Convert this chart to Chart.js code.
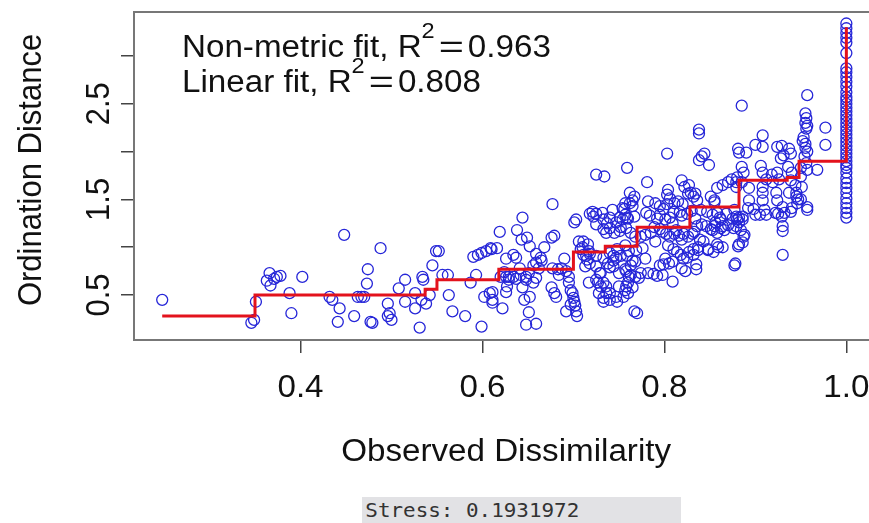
<!DOCTYPE html>
<html>
<head>
<meta charset="utf-8">
<script src="https://cdn.jsdelivr.net/npm/chart.js@4.4.1/dist/chart.umd.min.js"></script>
<style>
  html, body { margin: 0; padding: 0; background: #fff; overflow: hidden; width: 869px; height: 523px; }
  #wrap { position: absolute; left: 0; top: 0; width: 885px; height: 523px; }
  #stress {
    position: absolute; left: 362px; top: 497px; width: 319px; height: 30px;
    background: #e2e2e5; color: #333; white-space: nowrap;
    font-family: "DejaVu Sans Mono", "Liberation Mono", monospace; font-size: 19px; line-height: 26px;
  }
  #stress span { display: inline-block; transform: scaleX(1.1); transform-origin: left; padding-left: 3px; }
</style>
</head>
<body>
<div id="wrap"><canvas id="shepard"></canvas></div>
<div id="stress"><span>Stress: 0.1931972</span></div>
<script>
// Shepard diagram (vegan stressplot look-alike).

// observed dissimilarity vs ordination distance, grouped by dissimilarity band
const bandA = [
  [0.248,0.45],[0.346,0.21],[0.349,0.24],[0.351,0.43],[0.366,0.73],[0.374,0.69],[0.363,0.65],[0.367,0.60],
  [0.371,0.67],[0.378,0.70],[0.402,0.69],[0.388,0.52],[0.390,0.31],[0.432,0.48],[0.435,0.45],[0.443,0.36],
  [0.441,0.22],[0.448,1.13]
];
const bandB = [
  [0.459,0.28],[0.463,0.48],[0.467,0.48],[0.470,0.48],[0.477,0.22],[0.479,0.21],[0.474,0.77],[0.473,0.62],
  [0.488,0.99],[0.496,0.41],[0.496,0.28],[0.500,0.24],[0.498,0.31],[0.508,0.57],[0.515,0.66],[0.515,0.43],
  [0.526,0.36],[0.526,0.52],[0.531,0.16],[0.534,0.69],[0.535,0.66],[0.538,0.41],[0.542,0.50],[0.533,0.45],
  [0.545,0.81],[0.549,0.96],[0.552,0.96]
];
const bandC = [
  [0.556,0.71],[0.562,0.71],[0.563,0.50],[0.567,0.33],[0.581,0.28],[0.587,0.63],[0.593,0.71],[0.590,0.90],
  [0.595,0.92],[0.599,0.94],[0.604,0.96],[0.610,0.98],[0.616,0.99],[0.599,0.17],[0.602,0.48],[0.608,0.52],
  [0.611,0.45],[0.619,1.16],[0.622,0.36],[0.611,0.53],[0.611,0.42],[0.620,0.69],[0.609,0.99]
];
const bandD = [
  [0.626,0.88],[0.624,0.74],[0.626,0.69],[0.629,0.66],[0.637,0.67],[0.642,0.71],[0.648,0.69],[0.651,0.73],
  [0.634,0.92],[0.638,1.18],[0.643,1.08],[0.649,1.10],[0.652,1.01],[0.644,1.31],[0.652,0.48],[0.648,0.19],
  [0.659,0.93],[0.664,0.89],[0.665,0.86],[0.656,0.63],[0.659,0.68],[0.662,0.78],[0.677,1.45],[0.676,1.10],
  [0.679,1.12],[0.676,0.58],[0.679,0.52],[0.681,0.48],[0.677,0.78],[0.683,0.77],[0.687,0.78],[0.692,0.75],
  [0.695,0.69],[0.695,0.63],[0.692,0.33],[0.699,0.52],[0.700,0.47],[0.701,0.43],[0.702,0.39],[0.703,0.33],
  [0.704,0.28],[0.656,0.81],[0.659,0.84],[0.637,0.89],[0.641,0.78],[0.648,0.66],[0.634,0.69],[0.629,0.69],
  [0.684,0.71],[0.644,0.58],[0.626,0.53],[0.646,0.45],[0.651,0.32],[0.659,0.20],[0.697,0.55],[0.697,0.40],
  [0.627,0.59],[0.668,1.00],[0.690,0.88]
];
const bandE = [
  [0.703,1.29],[0.706,1.06],[0.708,0.98],[0.711,0.92],[0.725,1.76],[0.734,1.74],[0.701,1.26],[0.718,1.35],
  [0.721,1.37],[0.725,1.35],[0.733,1.29],[0.740,1.31],[0.743,1.39],[0.747,1.26],[0.751,1.31],[0.756,1.40],
  [0.759,1.31],[0.725,1.24],[0.733,1.19],[0.740,1.20],[0.745,1.15],[0.751,1.17],[0.758,1.20],[0.711,1.06],
  [0.716,1.03],[0.717,0.96],[0.714,0.91],[0.718,0.93],[0.725,0.91],[0.733,0.89],[0.740,0.94],[0.744,0.91],
  [0.747,0.89],[0.752,0.91],[0.759,0.91],[0.725,0.80],[0.729,0.73],[0.725,0.66],[0.733,0.63],[0.736,0.59],
  [0.736,0.52],[0.733,0.47],[0.733,0.43],[0.740,0.45],[0.744,0.80],[0.750,0.73],[0.758,0.75],[0.761,0.69],
  [0.750,0.59],[0.758,0.59],[0.760,0.52],[0.747,0.48],[0.755,0.48],[0.767,0.33],[0.759,1.83],[0.722,1.32],
  [0.732,1.36],[0.737,1.25],[0.736,1.15],[0.715,0.87],[0.718,0.83],[0.717,0.63],[0.727,0.63],[0.730,0.59],
  [0.728,0.52],[0.730,0.73],[0.738,0.83],[0.740,0.79],[0.744,0.86],[0.748,0.98],[0.740,0.52],[0.748,0.43],
  [0.710,1.00],[0.713,0.80]
];
const bandF = [
  [0.838,2.23],[0.838,2.19],[0.803,1.98],[0.841,1.95],[0.844,1.98],[0.849,1.86],[0.838,1.91],[0.781,1.68],
  [0.819,1.70],[0.822,1.63],[0.827,1.65],[0.829,1.57],[0.832,1.53],[0.836,1.49],[0.762,1.57],[0.767,1.53],
  [0.765,1.49],[0.762,1.46],[0.757,1.46],[0.804,1.60],[0.803,1.55],[0.806,1.51],[0.782,1.48],[0.790,1.46],
  [0.795,1.43],[0.799,1.40],[0.803,1.45],[0.811,1.46],[0.815,1.48],[0.820,1.45],[0.817,1.37],[0.754,1.41],
  [0.757,1.34],[0.754,1.29],[0.760,1.30],[0.767,1.32],[0.765,1.43],[0.780,1.36],[0.784,1.33],[0.792,1.30],
  [0.795,1.34],[0.801,1.29],[0.806,1.31],[0.810,1.37],[0.819,1.33],[0.825,1.35],[0.830,1.38],[0.834,1.30],
  [0.752,1.21],[0.763,1.15],[0.768,1.11],[0.774,1.11],[0.779,1.13],[0.785,1.15],[0.789,1.21],[0.795,1.19],
  [0.798,1.16],[0.802,1.14],[0.806,1.11],[0.811,1.14],[0.816,1.12],[0.821,1.14],[0.826,1.11],[0.831,1.14],
  [0.804,1.02],[0.810,0.98],[0.814,0.95],[0.818,0.92],[0.821,0.88],[0.827,0.95],[0.832,0.98],[0.832,0.92],
  [0.837,0.97],[0.801,0.88],[0.805,0.83],[0.809,0.85],[0.799,0.82],[0.757,1.02],[0.761,0.96],[0.765,0.86],
  [0.763,0.81],[0.768,0.85],[0.779,0.88],[0.757,0.77],[0.763,0.71],[0.768,0.69],[0.772,0.68],[0.760,0.63],
  [0.765,0.58],[0.757,0.55],[0.774,0.73],[0.782,0.73],[0.798,0.71],[0.809,0.64],[0.819,0.78],[0.823,0.75],
  [0.770,0.31],[0.776,0.99],[0.769,0.97],[0.790,1.06],[0.788,0.72],[0.792,0.70],[0.795,0.81],[0.835,0.77],
  [0.835,0.82],[0.813,1.18],[0.809,1.25],[0.825,0.89],[0.819,1.08],[0.826,1.56],[0.834,1.56]
];
const bandG = [
  [0.885,2.48],[0.957,2.59],[0.881,2.03],[0.882,1.99],[0.890,1.99],[0.900,2.07],[0.908,2.17],[0.908,2.05],
  [0.924,2.05],[0.929,2.06],[0.937,2.03],[0.939,1.98],[0.931,1.96],[0.928,1.93],
  [0.955,2.40],[0.956,2.35],[0.955,2.30],[0.957,2.27],[0.956,2.24],[0.953,2.15],[0.952,2.11],[0.955,2.08],
  [0.955,2.04],[0.957,2.00],[0.954,1.95],[0.956,1.88],[0.957,1.81],[0.977,2.25],[0.977,2.07],[0.968,1.81],
  [0.885,1.84],[0.887,1.78],[0.880,1.73],[0.885,1.68],[0.893,1.62],[0.879,1.63],[0.906,1.85],[0.908,1.78],
  [0.912,1.71],[0.918,1.76],[0.919,1.68],[0.924,1.78],[0.926,1.71],[0.936,1.84],[0.940,1.78],[0.939,1.70],
  [0.944,1.65],[0.945,1.57],[0.950,1.83],[0.950,1.74],[0.908,1.63],[0.908,1.57],[0.908,1.49],[0.910,1.39],
  [0.912,1.34],[0.923,1.57],[0.924,1.49],[0.930,1.42],[0.932,1.36],[0.929,1.32],[0.930,1.22],[0.930,1.17],
  [0.937,1.57],[0.945,1.53],[0.946,1.46],[0.940,1.41],[0.939,1.37],[0.957,1.42],[0.957,1.39],[0.922,1.36],
  [0.925,1.35],[0.930,0.92],[0.877,0.81],[0.898,1.40],[0.900,1.34],[0.905,1.34],[0.893,1.49],[0.892,1.41],
  [0.877,1.39],[0.879,1.32],[0.882,1.31],[0.886,1.32],[0.882,1.26],[0.884,1.18],[0.888,1.13],[0.886,1.05],
  [0.881,1.01],[0.858,1.36],[0.862,1.29],[0.856,1.26],[0.853,1.18],[0.858,1.15],[0.864,1.22],[0.840,1.39],
  [0.836,1.22],[0.833,1.16],[0.839,1.08],[0.837,1.00],[0.848,0.97],[0.859,1.00],[0.858,1.62],[0.864,1.65],
  [0.851,1.53],[0.855,1.49],[0.855,1.47],[0.870,1.68],[0.874,1.71],[0.879,1.68],[0.847,1.37],[0.853,1.34],
  [0.861,1.31],[0.868,1.35],[0.875,1.30],[0.880,1.29],[0.886,1.29],[0.841,1.24],[0.846,1.22],[0.851,1.19],
  [0.855,1.22],[0.862,1.20],[0.866,1.18],[0.870,1.23],[0.876,1.20],[0.879,1.22],[0.843,1.06],[0.848,0.98],
  [0.854,0.95],[0.864,1.00],[0.858,1.03],[0.878,0.83],[0.882,1.03],[0.887,1.11],[0.951,1.63],[0.947,1.50],
  [0.950,1.50]
];
// pairs with dissimilarity exactly 1.0 (ordination distances only)
const tiesAtOne = [
  3.34,3.29,3.24,3.19,3.14,3.03,2.87,2.83,2.78,2.73,2.68,2.62,2.57,2.54,2.50,2.46,2.42,2.38,2.34,2.30,
  2.26,2.22,2.18,2.14,2.10,2.06,2.02,1.98,1.94,1.90,1.86,1.83,1.78,1.72,1.67,1.62,1.57,1.51,1.46,1.41,
  1.36,1.31
];

// monotone (non-metric) step fit
const fitX = [0.248,0.350,0.537,0.550,0.618,0.700,0.735,0.770,0.828,0.882,0.935,0.948,1.000,1.000];
const fitY = [0.28, 0.50, 0.56, 0.66, 0.77, 0.95, 1.01, 1.21, 1.42, 1.70, 1.73, 1.90, 1.90, 3.30];

const xTicks = [0.4, 0.6, 0.8, 1.0];
const xTickLabels = ['0.4', '0.6', '0.8', '1.0'];
const yTicks = [0.5, 1.0, 1.5, 2.0, 2.5, 3.0];
const yTickLabels = ['0.5', '', '1.5', '', '2.5', ''];

const fitLines = [
  { prefix: 'Non-metric fit, ', value: '0.963' },
  { prefix: 'Linear fit, ', value: '0.808' }
];
const xTitle = 'Observed Dissimilarity';
const yTitle = 'Ordination Distance';

const FONT = '"Liberation Sans", Arial, Helvetica, sans-serif';
const STRETCH = 1.07; // the reference text is a bit wide

const points = [...bandA, ...bandB, ...bandC, ...bandD, ...bandE, ...bandF, ...bandG]
  .map(([x, y]) => ({ x, y }))
  .concat(tiesAtOne.map(y => ({ x: 1.0, y })));
const fitPoints = fitX.map((x, i) => ({ x, y: fitY[i] }));

function wideText(ctx, text, x, y, align, k) {
  const s = k || STRETCH;
  const w = ctx.measureText(text).width * s;
  const left = align === 'center' ? x - w / 2 : x;
  ctx.save();
  ctx.translate(left, y);
  ctx.scale(s, 1);
  ctx.textAlign = 'left';
  ctx.fillText(text, 0, 0);
  ctx.restore();
  return w;
}

function upText(ctx, text, x, y) {
  ctx.save();
  ctx.translate(x, y);
  ctx.rotate(-Math.PI / 2);
  ctx.scale(1, STRETCH);
  ctx.textAlign = 'center';
  ctx.fillText(text, 0, 0);
  ctx.restore();
}

const rDecor = {
  id: 'rDecor',
  afterDraw(chart) {
    const ctx = chart.ctx;
    const ca = chart.chartArea;
    const xs = chart.scales.x, ys = chart.scales.y;
    ctx.save();
    // plot box
    ctx.strokeStyle = '#777';
    ctx.lineWidth = 2;
    ctx.strokeRect(ca.left, ca.top, ca.right - ca.left, ca.bottom - ca.top);

    ctx.fillStyle = '#111';
    ctx.textBaseline = 'alphabetic';
    ctx.font = '31px ' + FONT;
    xTicks.forEach((v, i) => wideText(ctx, xTickLabels[i], xs.getPixelForValue(v), ca.bottom + 57, 'center'));
    yTicks.forEach((v, i) => {
      if (yTickLabels[i]) upText(ctx, yTickLabels[i], 109, ys.getPixelForValue(v));
    });
    wideText(ctx, xTitle, (ca.left + ca.right) / 2, ca.bottom + 121, 'center');
    upText(ctx, yTitle, 41, 170);

    // fit statistics
    fitLines.forEach((f, i) => {
      const base = ca.top + 45 + i * 35;
      let cx = 182;
      ctx.font = '31px ' + FONT;
      cx += wideText(ctx, f.prefix + 'R', cx, base, 'left');
      ctx.font = '22px ' + FONT;
      cx += wideText(ctx, '2', cx, base - 19, 'left') + 4;
      ctx.font = '31px ' + FONT;
      cx += wideText(ctx, '=', cx, base, 'left', STRETCH * 1.3) + 4;
      wideText(ctx, f.value, cx, base, 'left');
    });
    ctx.restore();
  }
};

const tickGrid = { drawOnChartArea: false, drawTicks: true, tickLength: 13, color: '#444', lineWidth: 1.5 };

new Chart(document.getElementById('shepard'), {
  type: 'scatter',
  data: {
    datasets: [
      {
        type: 'line',
        label: 'Non-metric fit',
        data: fitPoints,
        stepped: true,
        borderColor: '#e3121c',
        borderWidth: 3,
        pointRadius: 0,
        fill: false,
        order: 0
      },
      {
        label: 'Ordination distance',
        data: points,
        pointStyle: 'circle',
        pointRadius: 5.5,
        pointBorderWidth: 1.3,
        borderColor: '#2626d8',
        backgroundColor: 'rgba(0,0,0,0)',
        order: 1
      }
    ]
  },
  options: {
    responsive: true,
    maintainAspectRatio: false,
    animation: false,
    layout: { padding: { top: 12, right: 6, left: 0, bottom: 0 } },
    plugins: { legend: { display: false }, tooltip: { enabled: false } },
    scales: {
      x: {
        type: 'linear', min: 0.217, max: 1.035,
        afterBuildTicks: s => { s.ticks = xTicks.map(v => ({ value: v })); },
        afterFit: s => { s.height = 183; },
        ticks: { display: false },
        grid: tickGrid,
        border: { display: false }
      },
      y: {
        type: 'linear', min: 0.03, max: 3.46,
        afterBuildTicks: s => { s.ticks = yTicks.map(v => ({ value: v })); },
        afterFit: s => { s.width = 134; },
        ticks: { display: false },
        grid: tickGrid,
        border: { display: false }
      }
    }
  },
  plugins: [rDecor]
});
</script>
</body>
</html>
